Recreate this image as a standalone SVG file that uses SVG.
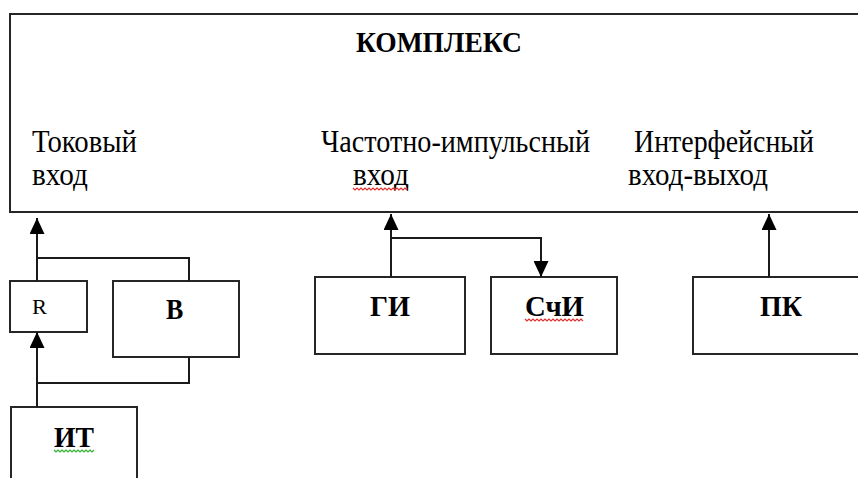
<svg xmlns="http://www.w3.org/2000/svg" width="858" height="478" viewBox="0 0 858 478">
<style>
.box{fill:#fff;stroke:#262626;stroke-width:2}
.ln{fill:none;stroke:#1a1a1a;stroke-width:2}
.wr{fill:none;stroke:#e03030;stroke-width:1.2}
.wg{fill:none;stroke:#30b030;stroke-width:1.2}
</style>
<defs>
<marker id="ah" viewBox="0 0 16 15" refX="16" refY="7.5" markerWidth="16" markerHeight="15" markerUnits="userSpaceOnUse" orient="auto">
<path d="M0,0 L16,7.5 L0,15 Z" fill="#000"/>
</marker>
</defs>
<rect width="858" height="478" fill="#fff"/>
<g font-family="Liberation Serif, Times New Roman, serif" fill="#000">
<g id="complex">
<rect class="box" x="10" y="14" width="860" height="198"/>
<text transform="translate(356,52) scale(1,1.15)" font-size="26" font-weight="bold" textLength="166" lengthAdjust="spacingAndGlyphs">КОМПЛЕКС</text>
<text transform="translate(32,152) scale(1,1.2)" font-size="27" textLength="105" lengthAdjust="spacingAndGlyphs">Токовый</text>
<text transform="translate(32,185) scale(1,1.2)" font-size="27" textLength="56" lengthAdjust="spacingAndGlyphs">вход</text>
<text transform="translate(321,152) scale(1,1.2)" font-size="27" textLength="269" lengthAdjust="spacingAndGlyphs">Частотно-импульсный</text>
<text transform="translate(353,185) scale(1,1.2)" font-size="27" textLength="56" lengthAdjust="spacingAndGlyphs">вход</text>
<path class="wr" d="M353,188 l2,2 l2,-2 l2,2 l2,-2 l2,2 l2,-2 l2,2 l2,-2 l2,2 l2,-2 l2,2 l2,-2 l2,2 l2,-2 l2,2 l2,-2 l2,2 l2,-2 l2,2 l2,-2 l2,2 l2,-2 l2,2 l2,-2 l2,2 l2,-2 l2,2"/>
<text transform="translate(634,152) scale(1,1.2)" font-size="27" textLength="180" lengthAdjust="spacingAndGlyphs">Интерфейсный</text>
<text transform="translate(628,185) scale(1,1.2)" font-size="27" textLength="140" lengthAdjust="spacingAndGlyphs">вход-выход</text>
</g>
<g id="R">
<rect class="box" x="10" y="281" width="77" height="51"/>
<text transform="translate(32,314) scale(1,1.1)" font-size="19" textLength="15" lengthAdjust="spacingAndGlyphs">R</text>
</g>
<g id="B">
<rect class="box" x="113" y="281" width="126" height="76"/>
<text transform="translate(166,319) scale(1,1.1)" font-size="26" font-weight="bold">В</text>
</g>
<g id="IT">
<rect class="box" x="11" y="407" width="126" height="90"/>
<text transform="translate(54,447) scale(1,1.1)" font-size="27" font-weight="bold" textLength="40" lengthAdjust="spacingAndGlyphs">ИТ</text>
<path class="wg" d="M54,450 l2,2 l2,-2 l2,2 l2,-2 l2,2 l2,-2 l2,2 l2,-2 l2,2 l2,-2 l2,2 l2,-2 l2,2 l2,-2 l2,2 l2,-2 l2,2 l2,-2 l2,2 l2,-2"/>
</g>
<g id="GI">
<rect class="box" x="315" y="277" width="150" height="77"/>
<text transform="translate(370,316) scale(1,1.1)" font-size="27" font-weight="bold" textLength="40" lengthAdjust="spacingAndGlyphs">ГИ</text>
</g>
<g id="SchI">
<rect class="box" x="491" y="277" width="126" height="77"/>
<text transform="translate(525,316) scale(1,1.1)" font-size="27" font-weight="bold" textLength="59" lengthAdjust="spacingAndGlyphs">СчИ</text>
<path class="wr" d="M525,319 l2,2 l2,-2 l2,2 l2,-2 l2,2 l2,-2 l2,2 l2,-2 l2,2 l2,-2 l2,2 l2,-2 l2,2 l2,-2 l2,2 l2,-2 l2,2 l2,-2 l2,2 l2,-2 l2,2 l2,-2 l2,2 l2,-2 l2,2 l2,-2 l2,2 l2,-2 l2,2"/>
</g>
<g id="PK">
<rect class="box" x="693" y="277" width="180" height="77"/>
<text transform="translate(760,316) scale(1,1.1)" font-size="27" font-weight="bold" textLength="42" lengthAdjust="spacingAndGlyphs">ПК</text>
</g>
</g>
<g id="connectors">
<path class="ln" d="M37,281 L37,218" marker-end="url(#ah)"/>
<path class="ln" d="M37,258 L189,258 L189,281"/>
<path class="ln" d="M37,407 L37,332" marker-end="url(#ah)"/>
<path class="ln" d="M37,383 L189,383 L189,357"/>
<path class="ln" d="M391,277 L391,214" marker-end="url(#ah)"/>
<path class="ln" d="M391,238 L541,238 L541,277" marker-end="url(#ah)"/>
<path class="ln" d="M769,277 L769,214" marker-end="url(#ah)"/>
</g>
</svg>
